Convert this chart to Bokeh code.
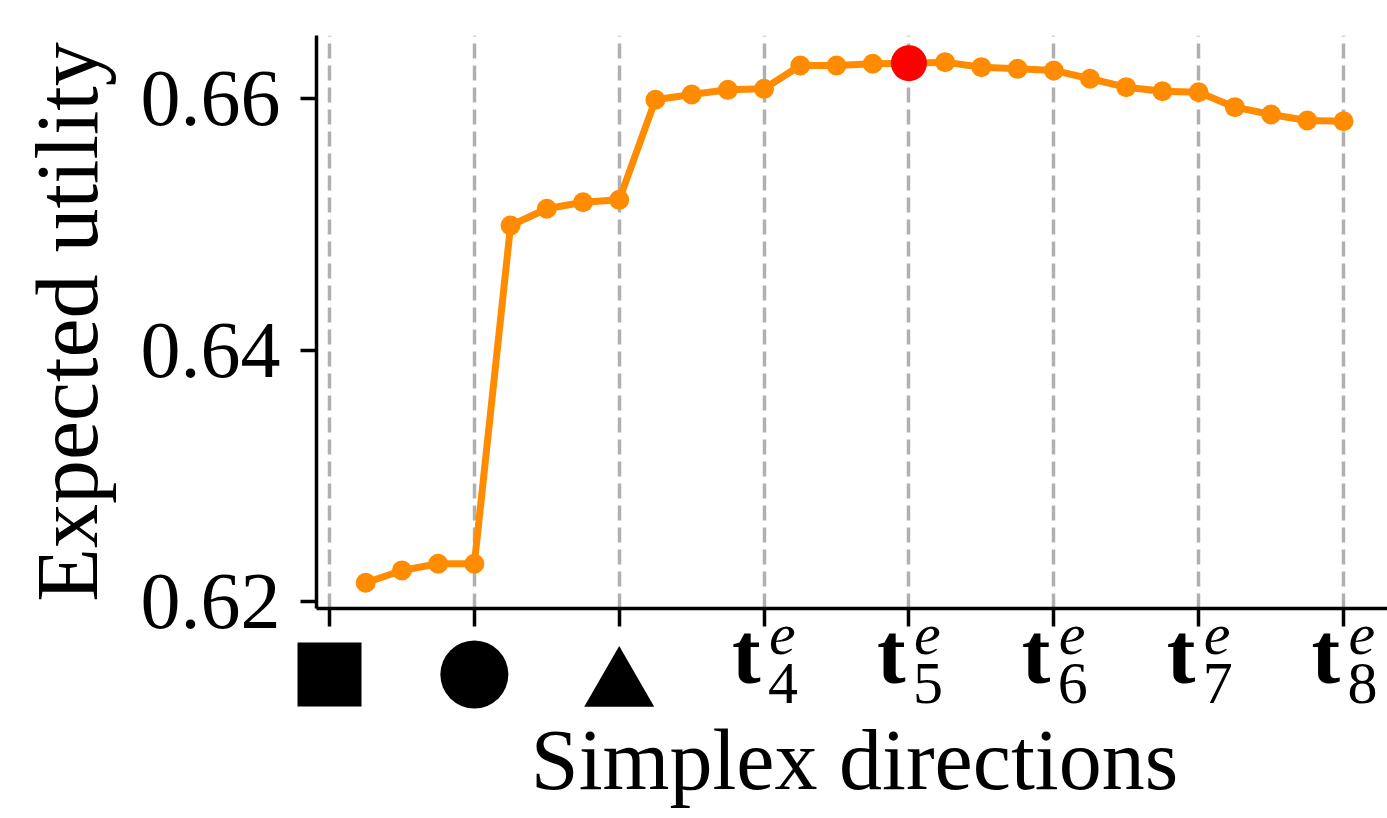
from bokeh.plotting import figure
from bokeh.models import FixedTicker, Range1d, ColumnDataSource
from bokeh.core.properties import value
from bokeh.embed import file_html
from bokeh.resources import INLINE

# ---------------- data ----------------
x_pos = [0.25, 0.5, 0.75, 1.0, 1.25, 1.5, 1.75, 2.0, 2.25, 2.5, 2.75, 3.0, 3.25, 3.5,
         3.75, 4.0, 4.25, 4.5, 4.75, 5.0, 5.25, 5.5, 5.75, 6.0, 6.25, 6.5, 6.75, 7.0]
utility = [0.62149, 0.62247, 0.62300, 0.62300,
           0.64990, 0.65123, 0.65175, 0.65194,
           0.65990, 0.66032, 0.66069, 0.66077,
           0.66262, 0.66262, 0.66276, 0.66281,
           0.66289, 0.66249, 0.66236, 0.66223,
           0.66157, 0.66090, 0.66058, 0.66050,
           0.65931, 0.65873, 0.65825, 0.65819]
best_x = [4.0]
best_y = [0.66281]
tick_pos = [0, 1, 2, 3, 4, 5, 6, 7]
marker_ticks = [0, 1, 2]
marker_kinds = ["square", "circle", "triangle"]
t_ticks = [3, 4, 5, 6, 7]
t_subs = ["4", "5", "6", "7", "8"]
y_ticks = [0.62, 0.64, 0.66]
x_title = "Simplex directions"
y_title = "Expected utility"

# ---------------- layout helpers ----------------
W, H = 1387, 818
H1 = 700                    # main plot canvas height
Q_TOP = 560                 # where the (transparent) label strip starts
LEFT, TOP, SPINE = 316, 35, 608
PX_PER_Y = 12575.0          # px per data unit (y)
PX_PER_X = 144.857          # px per data unit (x)
Y_REF_PX, Y_REF_VAL = 601.0, 0.62
X0_PX = 329.0
BASE_SHIFT = 0.36           # bokeh's alphabetic baseline sits this many em lower


def ypx(py):
    return Y_REF_VAL + (Y_REF_PX - py) / PX_PER_Y


def xpx(px):
    return (px - X0_PX) / PX_PER_X


def base(py, size):
    return py - BASE_SHIFT * size


FONT = "Liberation Serif"
ORANGE = "#ff8c00"

# ---------------- main plot ----------------
p = figure(width=W, height=H1, output_backend="svg", toolbar_location=None,
           x_range=Range1d(xpx(LEFT), xpx(W)), y_range=Range1d(ypx(SPINE), ypx(TOP)),
           min_border_left=LEFT, min_border_right=0, min_border_top=TOP,
           min_border_bottom=H1 - SPINE)
p.outline_line_color = None
p.background_fill_color = "white"
p.border_fill_color = "white"
p.ygrid.visible = False
p.xgrid.ticker = FixedTicker(ticks=tick_pos)
p.xgrid.grid_line_color = "#b0b0b0"
p.xgrid.grid_line_width = 3.5
p.xgrid.grid_line_dash = "15 7"

p.line(x_pos, utility, line_color=ORANGE, line_width=7)
p.scatter(x_pos, utility, size=20, fill_color=ORANGE, line_color=None)
p.scatter(best_x, best_y, size=36, fill_color="#ff0000", line_color=None)

xa = p.xaxis[0]
xa.ticker = FixedTicker(ticks=tick_pos)
xa.major_label_overrides = {t: "" for t in tick_pos}
xa.major_label_text_font_size = "1px"
xa.major_label_standoff = 0
xa.axis_line_width = 3.5
xa.axis_line_color = "black"
xa.major_tick_line_width = 3.5
xa.major_tick_out = 18
xa.major_tick_in = 0
xa.minor_tick_line_color = None

ya = p.yaxis[0]
ya.ticker = FixedTicker(ticks=y_ticks)
ya.axis_line_width = 3.5
ya.axis_line_color = "black"
ya.major_tick_line_width = 3.5
ya.major_tick_out = 16
ya.major_tick_in = 0
ya.minor_tick_line_color = None
ya.major_label_standoff = 20
ya.major_label_text_font = FONT
ya.major_label_text_font_size = "80px"
ya.major_label_text_color = "black"
ya.axis_label = y_title
ya.axis_label_text_font = FONT
ya.axis_label_text_font_size = "88px"
ya.axis_label_text_font_style = "normal"
ya.axis_label_text_color = "black"
ya.axis_label_standoff = 22

# ---------------- tick-label strip and x title (transparent overlay) ----------------
# y of this strip is measured in page pixels (top = Q_TOP, bottom = H)
q = figure(width=W, height=H - Q_TOP, output_backend="svg", toolbar_location=None,
           x_range=Range1d(xpx(0), xpx(W)), y_range=Range1d(H, Q_TOP),
           min_border_left=0, min_border_right=0, min_border_top=0, min_border_bottom=0,
           x_axis_location=None, y_axis_location=None,
           styles={"margin-top": f"{Q_TOP - H1}px"})
q.outline_line_color = None
q.grid.visible = False
q.background_fill_color = None
q.border_fill_color = None

q.scatter([marker_ticks[0]], [674], marker=marker_kinds[0], size=64,
          fill_color="black", line_color=None)
q.scatter([marker_ticks[1]], [674], marker=marker_kinds[1], size=68,
          fill_color="black", line_color=None)
q.scatter([marker_ticks[2]], [686], marker=marker_kinds[2], size=70,
          fill_color="black", line_color=None)

T_SIZE, S_SIZE, TITLE_SIZE = 86, 60, 86
t_src = ColumnDataSource(dict(x=t_ticks, s=t_subs))
q.text(x="x", y=base(684, T_SIZE), text=value("t"), source=t_src, x_offset=-32,
       text_align="left", text_baseline="alphabetic", text_font=value(FONT),
       text_font_style="bold", text_font_size=f"{T_SIZE}px", text_color="black")
q.text(x="x", y=base(656, S_SIZE), text=value("e"), source=t_src, x_offset=5,
       text_align="left", text_baseline="alphabetic", text_font=value(FONT),
       text_font_style="italic", text_font_size=f"{S_SIZE}px", text_color="black")
q.text(x="x", y=base(705, S_SIZE), text="s", source=t_src, x_offset=4,
       text_align="left", text_baseline="alphabetic", text_font=value(FONT),
       text_font_size=f"{S_SIZE}px", text_color="black")

q.text(x=[xpx(854)], y=[base(790, TITLE_SIZE)], text=[x_title], text_align="center",
       text_baseline="alphabetic", text_font=value(FONT),
       text_font_size=f"{TITLE_SIZE}px", text_color="black")

open("out.html", "w").write(file_html([p, q], INLINE))
